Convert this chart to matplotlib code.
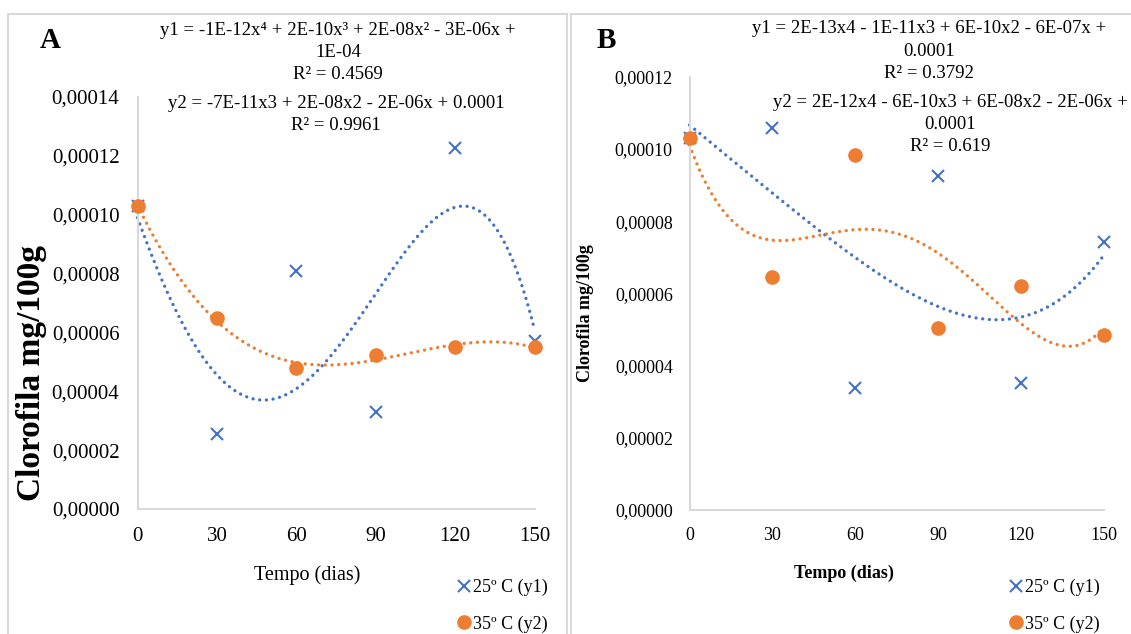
import numpy as np
import matplotlib
matplotlib.use("Agg")
import matplotlib.pyplot as plt
from matplotlib.ticker import FuncFormatter, MultipleLocator
from matplotlib.patches import Rectangle

plt.rcParams['font.family'] = ['Liberation Serif', 'DejaVu Serif']

# dados
dias = [0, 30, 60, 90, 120, 150]
a_25 = [1.03e-4, 2.55e-5, 8.10e-5, 3.30e-5, 1.226e-4, 5.70e-5]
a_35 = [1.03e-4, 6.48e-5, 4.78e-5, 5.25e-5, 5.50e-5, 5.50e-5]
b_25 = [1.03e-4, 1.059e-4, 3.37e-5, 9.26e-5, 3.53e-5, 7.41e-5]
b_35 = [1.031e-4, 6.44e-5, 9.83e-5, 5.05e-5, 6.20e-5, 4.85e-5]

eq_a1 = "y1 = -1E-12x⁴ + 2E-10x³ + 2E-08x² - 3E-06x +\n1E-04\nR² = 0.4569"
eq_a2 = "y2 = -7E-11x3 + 2E-08x2 - 2E-06x + 0.0001\nR² = 0.9961"
eq_b1 = "y1 = 2E-13x4 - 1E-11x3 + 6E-10x2 - 6E-07x +\n0.0001\nR² = 0.3792"
eq_b2 = "y2 = 2E-12x4 - 6E-10x3 + 6E-08x2 - 2E-06x +\n0.0001\nR² = 0.619"

azul = '#4472C4'
laranja = '#ED7D31'
cinza = '#D9D9D9'

W, H = 1131, 634
fig = plt.figure(figsize=(W / 100, H / 100), dpi=100)


def fx(px):
    return px / W


def fy(py):
    return 1 - py / H


# molduras dos paineis
fig.patches.append(Rectangle((fx(8), fy(640)), fx(559), fy(14) - fy(640),
                             transform=fig.transFigure, fill=False, ec=cinza, lw=1.5))
fig.patches.append(Rectangle((fx(571), fy(640)), fx(570), fy(14) - fy(640),
                             transform=fig.transFigure, fill=False, ec=cinza, lw=1.5))


def painel(rect, y25, y35, grau1, grau2, ymax, fs_tick, pad_y, pad_x):
    ax = fig.add_axes(rect)
    xs = np.linspace(0, 150, 400)
    c1 = np.polyfit(dias, y25, grau1)
    c2 = np.polyfit(dias, y35, grau2)
    ax.plot(xs, np.polyval(c1, xs), color=azul, lw=2.4, ls=(0, (0.01, 2.0)),
            dash_capstyle='round', clip_on=False, zorder=2)
    ax.plot(xs, np.polyval(c2, xs), color=laranja, lw=2.4, ls=(0, (0.01, 2.0)),
            dash_capstyle='round', clip_on=False, zorder=2)
    ax.plot(dias, y25, ls='none', marker='x', ms=8.5, mew=1.5, color=azul,
            clip_on=False, zorder=3, label='25º C (y1)')
    ax.plot(dias, y35, ls='none', marker='o', ms=9.5, color=laranja,
            clip_on=False, zorder=4, label='35º C (y2)')
    ax.set_xlim(0, 150)
    ax.set_ylim(0, ymax)
    ax.xaxis.set_major_locator(MultipleLocator(30))
    ax.yaxis.set_major_locator(MultipleLocator(0.00002))
    ax.yaxis.set_major_formatter(FuncFormatter(lambda v, p: f"{v:.5f}".replace('.', ',')))
    for s in ['top', 'right']:
        ax.spines[s].set_visible(False)
    for s in ['left', 'bottom']:
        ax.spines[s].set_color(cinza)
        ax.spines[s].set_linewidth(1.5)
    ax.tick_params(axis='y', length=0, labelsize=fs_tick, pad=pad_y)
    ax.tick_params(axis='x', length=0, labelsize=fs_tick, pad=pad_x)
    ax.patch.set_alpha(0)
    return ax


ax_a = painel([fx(137.5), fy(509), fx(534.5) - fx(137.5), fy(97) - fy(509)],
              a_25, a_35, 4, 3, 0.00014, 15, 13, 13)
ax_b = painel([fx(689.5), fy(510), fx(1103.6) - fx(689.5), fy(76.7) - fy(510)],
              b_25, b_35, 4, 4, 0.00012, 13, 12, 12)

# letras dos paineis
fig.text(fx(50), fy(41), 'A', fontsize=21, fontweight='bold', ha='center', va='center')
fig.text(fx(606), fy(41), 'B', fontsize=21, fontweight='bold', ha='center', va='center')

# eixos
fig.text(fx(32), fy(373), 'Clorofila mg/100g', fontsize=24, fontweight='bold',
         rotation=90, ha='center', va='center')
fig.text(fx(585), fy(313), 'Clorofila mg/100g', fontsize=13, fontweight='bold',
         rotation=90, ha='center', va='center')
fig.text(fx(307), fy(575), 'Tempo (dias)', fontsize=14.5, ha='center', va='center')
fig.text(fx(844), fy(573), 'Tempo (dias)', fontsize=13, fontweight='bold',
         ha='center', va='center')

# equacoes
fig.text(fx(338), fy(52.5), eq_a1, fontsize=13.5, ha='center', va='center', linespacing=1.4)
fig.text(fx(336), fy(114.5), eq_a2, fontsize=13.5, ha='center', va='center', linespacing=1.4)
fig.text(fx(929), fy(51), eq_b1, fontsize=13.5, ha='center', va='center', linespacing=1.4)
fig.text(fx(950), fy(124.5), eq_b2, fontsize=13.5, ha='center', va='center', linespacing=1.4)

# legendas
for ax, x0 in [(ax_a, 457), (ax_b, 1009)]:
    ax.legend(loc='upper left', bbox_to_anchor=(fx(x0), fy(579)),
              bbox_transform=fig.transFigure, frameon=False, borderpad=0,
              handlelength=0.8, handletextpad=0.1, labelspacing=1.05,
              fontsize=13, borderaxespad=0)

fig.savefig('out.png', dpi=100)
